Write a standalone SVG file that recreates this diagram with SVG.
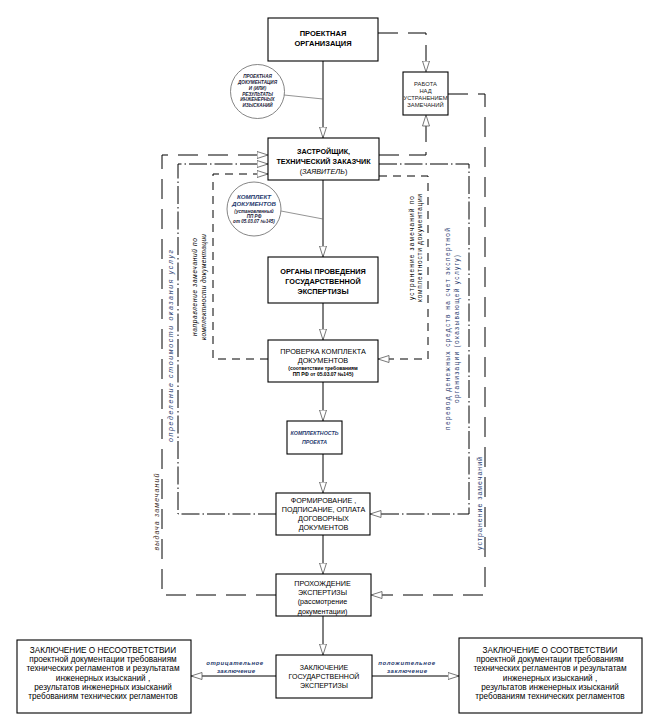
<svg xmlns="http://www.w3.org/2000/svg" width="653" height="727" viewBox="0 0 653 727">
<style>
.box{fill:#fff;stroke:#000;stroke-width:1.1}
.ln{fill:none;stroke:#000;stroke-width:1}
.ld{stroke-dasharray:20 10}
.dd{stroke-dasharray:18 3 1.5 3}
.sd{stroke-dasharray:8 6}
.thin{fill:none;stroke:#666;stroke-width:0.7}
.circ{fill:#fff;stroke:#666;stroke-width:0.8}
.t{font-family:"Liberation Sans",Arial,sans-serif;text-anchor:middle;fill:#000}
.b{font-weight:bold}
.i{font-style:italic}
.nv{fill:#1f3a6e}
</style>
<defs>
<marker id="a" viewBox="0 0 12 8" refX="11.5" refY="4" markerWidth="12" markerHeight="8" markerUnits="userSpaceOnUse" orient="auto">
<path d="M0.5,0.5 L11.5,4 L0.5,7.5 Z" fill="#fff" stroke="#555" stroke-width="0.8"/>
</marker>
</defs>
<rect width="653" height="727" fill="#fff"/>

<g id="connectors">
<path class="ln ld" d="M378,33 H426 V72" marker-end="url(#a)"/>
<path class="ln ld" d="M379,155 H426 V115" marker-end="url(#a)"/>
<path class="ln ld" d="M448,94 H485 V595 H371" marker-end="url(#a)"/>
<path class="ln ld" d="M276,595 H162 V155 H268" marker-end="url(#a)"/>
<path class="ln dd" d="M276,514 H178 V164 H268" marker-end="url(#a)"/>
<path class="ln dd" d="M379,164 H469 V514 H370" marker-end="url(#a)"/>
<path class="ln sd" d="M268,359 H213 V174 H268" marker-end="url(#a)"/>
<path class="ln sd" d="M379,176 H428 V359 H378" marker-end="url(#a)"/>
<path class="ln" d="M323,61 V138" marker-end="url(#a)"/>
<path class="ln" d="M323,180 V257" marker-end="url(#a)"/>
<path class="ln" d="M323,303 V340" marker-end="url(#a)"/>
<path class="ln" d="M323,382 V421" marker-end="url(#a)"/>
<path class="ln" d="M323,454 V493" marker-end="url(#a)"/>
<path class="ln" d="M323,535 V574" marker-end="url(#a)"/>
<path class="ln" d="M323,616 V655" marker-end="url(#a)"/>
<path class="ln" d="M276,676 H191" marker-end="url(#a)"/>
<path class="ln" d="M372,676 H459" marker-end="url(#a)"/>
<path class="thin" d="M284,95 L323,99"/>
<path class="thin" d="M281,211 L323,219"/>
</g>

<g id="labels">
<text class="t i" style="font-size:7px;fill:#3a2a1a" transform="translate(158.5,512) rotate(-90)" textLength="77" lengthAdjust="spacing">выдача замечаний</text>
<text class="t i nv" style="font-size:7px" transform="translate(173,346) rotate(-90)" textLength="192" lengthAdjust="spacing">определение стоимости оказания услуг</text>
<text class="t i" style="font-size:6.5px" transform="translate(197,287) rotate(-90)" textLength="98" lengthAdjust="spacing">направление замечаний по</text>
<text class="t i" style="font-size:6.5px" transform="translate(205.5,287) rotate(-90)" textLength="106" lengthAdjust="spacing">комплектности документации</text>
<text class="t" style="font-size:6.5px" transform="translate(413.5,248) rotate(-90)" textLength="104" lengthAdjust="spacing">устранение замечаний по</text>
<text class="t" style="font-size:6.5px" transform="translate(422,248) rotate(-90)" textLength="108" lengthAdjust="spacing">комплектности документации</text>
<text class="t nv" style="font-size:6.5px" transform="translate(449.5,329) rotate(-90)" textLength="202" lengthAdjust="spacing">перевод денежных средств на счет экспертной</text>
<text class="t nv" style="font-size:6.5px" transform="translate(458.5,329) rotate(-90)" textLength="148" lengthAdjust="spacing">организации (оказывающей услугу)</text>
<text class="t nv" style="font-size:7px" transform="translate(482,503.5) rotate(-90)" textLength="93" lengthAdjust="spacing">устранение замечаний</text>
<text class="t b i nv" style="font-size:6px" x="234.7" y="665" textLength="57" lengthAdjust="spacing">отрицательное</text>
<text class="t b i nv" style="font-size:6px" x="236" y="672.5" textLength="38" lengthAdjust="spacing">заключение</text>
<text class="t b i nv" style="font-size:6px" x="406.7" y="665" textLength="57" lengthAdjust="spacing">положительное</text>
<text class="t b i nv" style="font-size:6px" x="407" y="672.5" textLength="40" lengthAdjust="spacing">заключение</text>
</g>

<g id="n-proekt-org">
<rect class="box" x="268" y="18" width="110" height="43"/>
<text class="t b" style="font-size:7.5px" x="323" y="35.7">ПРОЕКТНАЯ</text>
<text class="t b" style="font-size:7.5px" x="323" y="45.7">ОРГАНИЗАЦИЯ</text>
</g>

<g id="n-circle-docs">
<circle class="circ" cx="257.5" cy="91.5" r="27"/>
<text class="t b i" style="font-size:4.6px;fill:#1a1a3a" x="257.5" y="77.8">ПРОЕКТНАЯ</text>
<text class="t b i" style="font-size:4.6px;fill:#1a1a3a" x="257.5" y="83.7">ДОКУМЕНТАЦИЯ</text>
<text class="t b i" style="font-size:4.6px;fill:#1a1a3a" x="257.5" y="89.6">И (ИЛИ)</text>
<text class="t b i" style="font-size:4.6px;fill:#1a1a3a" x="257.5" y="95.5">РЕЗУЛЬТАТЫ</text>
<text class="t b i" style="font-size:4.6px;fill:#1a1a3a" x="257.5" y="101.4">ИНЖЕНЕРНЫХ</text>
<text class="t b i" style="font-size:4.6px;fill:#1a1a3a" x="257.5" y="107.3">ИЗЫСКАНИЙ</text>
</g>

<g id="n-rabota">
<rect class="box" x="403" y="72" width="45" height="43"/>
<text class="t" style="font-size:5.8px;fill:#222" x="425.5" y="86">РАБОТА</text>
<text class="t" style="font-size:5.8px;fill:#222" x="425.5" y="93">НАД</text>
<text class="t" style="font-size:5.8px;fill:#222" x="425.5" y="100" textLength="44" lengthAdjust="spacingAndGlyphs">УСТРАНЕНИЕМ</text>
<text class="t" style="font-size:5.8px;fill:#222" x="425.5" y="107">ЗАМЕЧАНИЙ</text>
</g>

<g id="n-zastroyshik">
<rect class="box" x="268" y="138" width="111" height="42"/>
<text class="t b" style="font-size:7.2px" x="323.5" y="153.5">ЗАСТРОЙЩИК,</text>
<text class="t b" style="font-size:7.2px" x="323.5" y="163.5">ТЕХНИЧЕСКИЙ ЗАКАЗЧИК</text>
<text class="t" style="font-size:7.2px" x="323.5" y="173.5">(<tspan class="i">ЗАЯВИТЕЛЬ</tspan>)</text>
</g>

<g id="n-circle-komplekt">
<circle class="circ" cx="254" cy="209" r="27"/>
<text class="t b i nv" style="font-size:6.2px" x="254" y="199">КОМПЛЕКТ</text>
<text class="t b i nv" style="font-size:6.2px" x="254" y="205.5">ДОКУМЕНТОВ</text>
<text class="t b i" style="font-size:4.6px;fill:#1a1a3a" x="254" y="212.6">(установленный</text>
<text class="t b i" style="font-size:4.6px;fill:#1a1a3a" x="254" y="217.6">ПП РФ</text>
<text class="t b i" style="font-size:4.6px;fill:#1a1a3a" x="254" y="222.6">от 05.03.07 №145)</text>
</g>

<g id="n-organy">
<rect class="box" x="268" y="257" width="110" height="46"/>
<text class="t b" style="font-size:7.3px" x="323" y="273.6">ОРГАНЫ ПРОВЕДЕНИЯ</text>
<text class="t b" style="font-size:7.3px" x="323" y="283.6">ГОСУДАРСТВЕННОЙ</text>
<text class="t b" style="font-size:7.3px" x="323" y="293.6">ЭКСПЕРТИЗЫ</text>
</g>

<g id="n-proverka">
<rect class="box" x="268" y="340" width="110" height="42"/>
<text class="t" style="font-size:7.3px" x="323" y="353.6">ПРОВЕРКА КОМПЛЕКТА</text>
<text class="t" style="font-size:7.3px" x="323" y="362.6">ДОКУМЕНТОВ</text>
<text class="t b" style="font-size:5px" x="323" y="369.8">(соответствие требованиям</text>
<text class="t b" style="font-size:5px" x="323" y="375.8">ПП РФ от 05.03.07 №145)</text>
</g>

<g id="n-komplektnost">
<rect class="box" x="287" y="421" width="55" height="33"/>
<text class="t b i nv" style="font-size:5.3px" x="314.5" y="435">КОМПЛЕКТНОСТЬ</text>
<text class="t b i nv" style="font-size:5.3px" x="314.5" y="444">ПРОЕКТА</text>
</g>

<g id="n-formirovanie">
<rect class="box" x="276" y="493" width="94" height="42"/>
<text class="t" style="font-size:7.2px" x="323.5" y="502.5">ФОРМИРОВАНИЕ ,</text>
<text class="t" style="font-size:7.2px" x="323.5" y="511.5">ПОДПИСАНИЕ, ОПЛАТА</text>
<text class="t" style="font-size:7.2px" x="323.5" y="520.5">ДОГОВОРНЫХ</text>
<text class="t" style="font-size:7.2px" x="323.5" y="529.5">ДОКУМЕНТОВ</text>
</g>

<g id="n-prokhozhdenie">
<rect class="box" x="276" y="574" width="95" height="42"/>
<text class="t" style="font-size:7.2px" x="322.5" y="586">ПРОХОЖДЕНИЕ</text>
<text class="t" style="font-size:7.2px" x="322.5" y="595.2">ЭКСПЕРТИЗЫ</text>
<text class="t" style="font-size:7.2px" x="322.5" y="604.4">(рассмотрение</text>
<text class="t" style="font-size:7.2px" x="322.5" y="613.6">документации)</text>
</g>

<g id="n-zakl-gos">
<rect class="box" x="276" y="655" width="96" height="43"/>
<text class="t" style="font-size:7px" x="324" y="669.5">ЗАКЛЮЧЕНИЕ</text>
<text class="t" style="font-size:7px" x="324" y="678.8">ГОСУДАРСТВЕННОЙ</text>
<text class="t" style="font-size:7px" x="324" y="688">ЭКСПЕРТИЗЫ</text>
</g>

<g id="n-zakl-neg">
<rect class="box" x="17" y="640" width="174" height="73"/>
<text class="t" style="font-size:8.2px" x="103" y="653">ЗАКЛЮЧЕНИЕ О НЕСООТВЕТСТВИИ</text>
<text class="t" style="font-size:8.2px" x="103" y="662.2">проектной документации требованиям</text>
<text class="t" style="font-size:8.2px" x="103" y="671.4">технических  регламентов и результатам</text>
<text class="t" style="font-size:8.2px" x="103" y="680.6">инженерных изысканий ,</text>
<text class="t" style="font-size:8.2px" x="103" y="689.8">результатов инженерных изысканий</text>
<text class="t" style="font-size:8.2px" x="103" y="699">требованиям технических регламентов</text>
</g>

<g id="n-zakl-pos">
<rect class="box" x="459" y="638" width="183" height="75"/>
<text class="t" style="font-size:8.2px" x="550" y="653">ЗАКЛЮЧЕНИЕ О СООТВЕТСТВИИ</text>
<text class="t" style="font-size:8.2px" x="550" y="662.2">проектной документации требованиям</text>
<text class="t" style="font-size:8.2px" x="550" y="671.4">технических  регламентов и результатам</text>
<text class="t" style="font-size:8.2px" x="550" y="680.6">инженерных изысканий ,</text>
<text class="t" style="font-size:8.2px" x="550" y="689.8">результатов инженерных изысканий</text>
<text class="t" style="font-size:8.2px" x="550" y="699">требованиям технических регламентов</text>
</g>
</svg>
